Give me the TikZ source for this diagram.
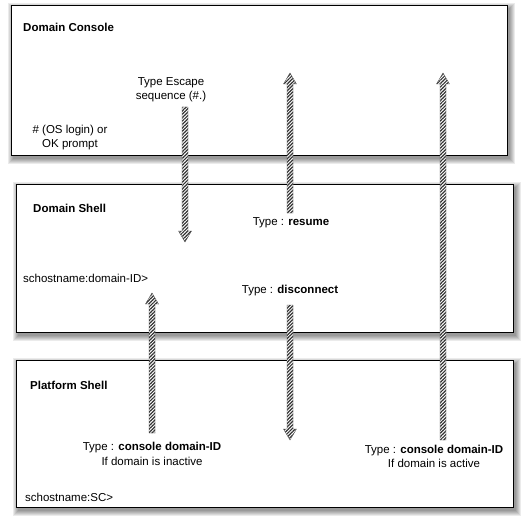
\documentclass[tikz,border=0pt]{standalone}
\usepackage{fontspec}
\setmainfont{Liberation Sans}
\usetikzlibrary{calc,patterns.meta,backgrounds}
\tikzset{
  box/.style={draw=black, line width=1pt, fill=white, inner sep=0pt, anchor=north west},
  lbl/.style={font=\fontsize{11.5}{14.5}\selectfont, inner sep=0pt, align=center},
  ttl/.style={font=\fontsize{11.5}{14}\selectfont\bfseries, inner sep=0pt, anchor=west},
  hatch/.style={draw=gray!70!black, line width=0.4pt, preaction={fill=white},
    pattern={Lines[angle=45,distance=2.4pt,line width=1.2pt]}, pattern color=black!80},
  shadowfill/.style={fill=black, opacity=0.08}
}
\newcommand\hatchedarrow[2]{%
  \coordinate (hb) at ($(#2)!11pt!(#1)$);
  \path[hatch] ($(#1)!3pt!90:(#2)$) -- ($(hb)!3pt!-90:(#1)$) -- ($(hb)!6.5pt!-90:(#1)$)
    -- (#2) -- ($(hb)!6.5pt!90:(#1)$) -- ($(hb)!3pt!90:(#1)$) -- ($(#1)!3pt!-90:(#2)$) -- cycle;}
\begin{document}
\begin{tikzpicture}[x=1pt,y=-1pt]
\useasboundingbox (0,0) rectangle (530,524);
% boxes
\node[box, minimum width=496pt, minimum height=150pt] (console) at (11,5) {};
\node[box, minimum width=497pt, minimum height=148pt] (shell) at (16,184) {};
\node[box, minimum width=497pt, minimum height=147pt] (platform) at (16,360) {};
\begin{scope}[on background layer]
  \fill[white] (0,0) rectangle (530,524);
  \foreach \b in {console,shell,platform}{
    \foreach \r in {0,1,2,3,4,5}{
      \fill[shadowfill] ([xshift={2pt-\r pt},yshift={-3pt+\r pt}]\b.north west)
        rectangle ([xshift={2pt+\r pt},yshift={-3pt-\r pt}]\b.south east);
    }
  }
\end{scope}
% titles and texts
\node[ttl] (t1) at (23,27) {Domain Console};
\node[lbl] (esc) at (171,89.5) {Type Escape\\sequence (\#.)};
\node[lbl] (os) at (70,137.5) {\# (OS login) or\\OK prompt};
\node[ttl] (t2) at (33,208) {Domain Shell};
\node[lbl] (res) at (291,223) {Type : \textbf{resume}};
\node[lbl, anchor=west] (dp) at (23,278) {schostname:domain-ID>};
\node[lbl] (dis) at (290,291) {Type : \textbf{disconnect}};
\node[ttl] (t3) at (30,385) {Platform Shell};
\node[lbl] (cin) at (152,454) {Type : \textbf{console domain-ID}\\If domain is inactive};
\node[lbl] (cac) at (434,456.5) {Type : \textbf{console domain-ID}\\If domain is active};
\node[lbl, anchor=west] (sc) at (25,497) {schostname:SC>};
% arrow ends
\coordinate (a1s) at (185,107);  \coordinate (a1e) at (185,242);
\coordinate (a2s) at (290,213);  \coordinate (a2e) at (290,73);
\coordinate (a3s) at (443,440);  \coordinate (a3e) at (443,73);
\coordinate (a4s) at (152,433);  \coordinate (a4e) at (152,293);
\coordinate (a5s) at (290,305);  \coordinate (a5e) at (290,440);
\hatchedarrow{a1s}{a1e}
\hatchedarrow{a2s}{a2e}
\hatchedarrow{a3s}{a3e}
\hatchedarrow{a4s}{a4e}
\hatchedarrow{a5s}{a5e}
\end{tikzpicture}
\end{document}
